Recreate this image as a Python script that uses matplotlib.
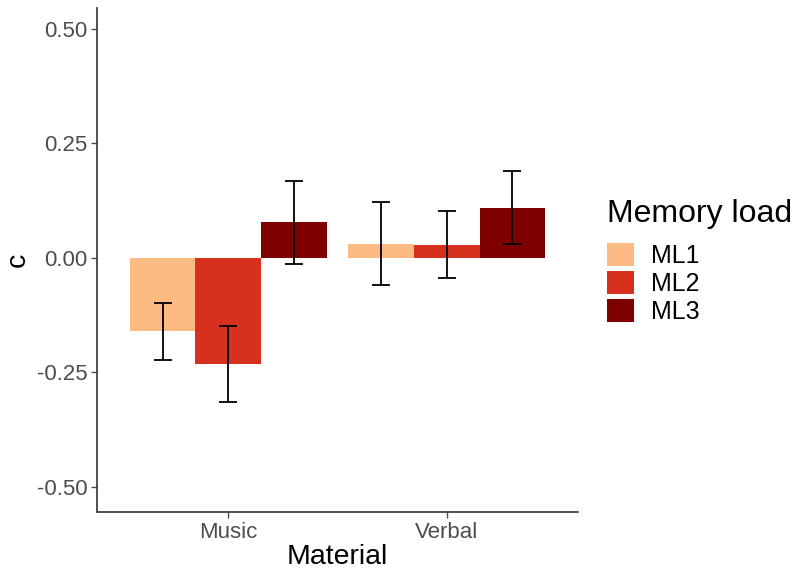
import matplotlib.pyplot as plt
import numpy as np

plt.rcParams['font.family'] = ['Liberation Sans', 'DejaVu Sans']

materials = ["Music", "Verbal"]
loads = ["ML1", "ML2", "ML3"]
colors = ["#FDBB84", "#D7301F", "#7F0000"]

# mean c per material, one list per memory load
means = {
    "ML1": [-0.161, 0.031],
    "ML2": [-0.231, 0.028],
    "ML3": [0.077, 0.109],
}
err_low = {
    "ML1": [-0.224, -0.060],
    "ML2": [-0.316, -0.044],
    "ML3": [-0.013, 0.030],
}
err_high = {
    "ML1": [-0.099, 0.122],
    "ML2": [-0.148, 0.102],
    "ML3": [0.167, 0.190],
}

fig = plt.figure(figsize=(7.93, 5.70), dpi=100)
ax = fig.add_axes([97 / 793, 58 / 570, 481 / 793, 504 / 570])

x = np.arange(1, len(materials) + 1)
w = 0.3
for i, ml in enumerate(loads):
    xs = x + (i - 1) * w
    m = np.array(means[ml])
    ax.bar(xs, m, width=w, color=colors[i], label=ml, zorder=2)
    lo = m - np.array(err_low[ml])
    hi = np.array(err_high[ml]) - m
    ax.errorbar(xs, m, yerr=[lo, hi], fmt="none", ecolor="black",
                elinewidth=1.3, capsize=6.5, capthick=1.3, zorder=3)

ax.set_xlim(0.4, 2.6)
ax.set_ylim(-0.555, 0.545)
ax.set_yticks([-0.5, -0.25, 0, 0.25, 0.5])
ax.set_yticklabels(["-0.50", "-0.25", "0.00", "0.25", "0.50"])
ax.set_xticks(x)
ax.set_xticklabels(materials)
ax.tick_params(colors="#4D4D4D", labelsize=16, length=4, width=1, pad=3)
for s in ["top", "right"]:
    ax.spines[s].set_visible(False)
for s in ["left", "bottom"]:
    ax.spines[s].set_linewidth(1.2)
    ax.spines[s].set_color("#333333")
ax.set_xlabel("Material", fontsize=20.5, labelpad=1)
ax.set_ylabel("c", fontsize=20.5, labelpad=4)

leg = ax.legend(title="Memory load", loc="center left", bbox_to_anchor=(1.035, 0.497),
                frameon=False, fontsize=18, title_fontsize=23,
                handlelength=1.05, handleheight=1.05, handletextpad=0.7,
                labelspacing=0.1, borderpad=0)
leg._legend_box.align = "left"
leg._legend_box.sep = 10

fig.savefig("out.png", dpi=100)
